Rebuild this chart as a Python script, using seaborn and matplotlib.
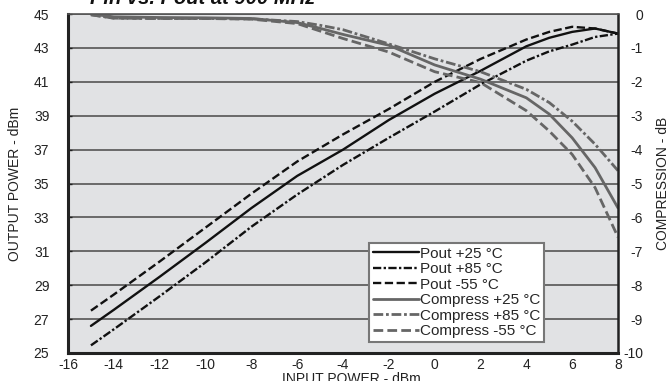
import matplotlib
matplotlib.use("Agg")
import matplotlib.pyplot as plt
from matplotlib.ticker import MultipleLocator, FixedLocator
import seaborn as sns

# input power (dBm) for the output power curves
pin = [-15, -14, -12, -10, -8, -6, -4, -2, 0, 2, 4, 5, 6, 7, 8]
pout_p25 = [26.6, 27.55, 29.5, 31.5, 33.55, 35.45, 37.0, 38.75, 40.3, 41.65, 43.1, 43.6, 43.95, 44.15, 43.85]
pout_p85 = [25.45, 26.4, 28.35, 30.35, 32.45, 34.35, 36.1, 37.7, 39.25, 40.85, 42.25, 42.8, 43.2, 43.65, 43.85]
pout_m55 = [27.5, 28.45, 30.4, 32.4, 34.4, 36.3, 37.9, 39.4, 41.0, 42.35, 43.5, 43.95, 44.25, 44.15, 43.85]

# input power (dBm) for the compression curves
pin_c = [-15, -14, -12, -10, -8, -6, -5, -4, -2, 0, 2, 4, 5, 6, 7, 8]
comp_p25 = [0.0, -0.08, -0.1, -0.11, -0.13, -0.25, -0.42, -0.6, -0.92, -1.5, -1.92, -2.47, -2.95, -3.65, -4.53, -5.72]
comp_p85 = [-0.02, -0.12, -0.13, -0.13, -0.14, -0.22, -0.33, -0.46, -0.88, -1.32, -1.7, -2.22, -2.61, -3.16, -3.84, -4.62]
comp_m55 = [-0.02, -0.12, -0.13, -0.13, -0.15, -0.28, -0.5, -0.72, -1.12, -1.7, -2.02, -2.85, -3.45, -4.14, -5.12, -6.58]

grid_x = [-14, -12, -8, -6, -4, -2, 0, 2, 4, 6]
yticks_left = [25, 27, 29, 31, 33, 35, 37, 39, 41, 43, 45]

sns.set_style("white")
plt.rcParams["font.family"] = ["Liberation Sans", "DejaVu Sans"]
plt.rcParams["axes.unicode_minus"] = False

fig, ax = plt.subplots(figsize=(6.67, 3.81), dpi=100)
fig.subplots_adjust(left=0.102, right=0.9265, bottom=0.0735, top=0.963)
ax2 = ax.twinx()

black = "#111111"
gray = "#666666"
dash = (0, (3.5, 1.5))
dashdot = (0, (3.5, 1.0, 1.0, 1.0))

sns.lineplot(x=pin, y=pout_p25, ax=ax, color=black, lw=1.7, linestyle="-", label="Pout +25 °C")
sns.lineplot(x=pin, y=pout_p85, ax=ax, color=black, lw=1.7, linestyle=dashdot, label="Pout +85 °C")
sns.lineplot(x=pin, y=pout_m55, ax=ax, color=black, lw=1.7, linestyle=dash, label="Pout -55 °C")

sns.lineplot(x=pin_c, y=comp_p25, ax=ax2, color=gray, lw=2.0, linestyle="-", label="Compress +25 °C")
sns.lineplot(x=pin_c, y=comp_p85, ax=ax2, color=gray, lw=2.0, linestyle=dashdot, label="Compress +85 °C")
sns.lineplot(x=pin_c, y=comp_m55, ax=ax2, color=gray, lw=2.0, linestyle=dash, label="Compress -55 °C")

ax.set_facecolor("#e1e2e4")
ax.set_axisbelow(True)
ax.set_xlim(-16, 8)
ax.set_ylim(25, 45)
ax2.set_ylim(-10, 0)

ax.xaxis.set_major_locator(MultipleLocator(2))
ax.xaxis.set_minor_locator(FixedLocator(grid_x))
ax.yaxis.set_major_locator(FixedLocator(yticks_left))
ax2.yaxis.set_major_locator(MultipleLocator(1))

ax.grid(False)
ax2.grid(False)
ax.xaxis.grid(True, which="minor", color="#222222", lw=1.0)
ax.yaxis.grid(True, which="major", color="#555555", lw=1.2)

ax.tick_params(axis="x", which="both", length=0, pad=3.5, labelsize=10, colors="#222222")
ax.tick_params(axis="y", which="major", direction="in", length=3, width=1, pad=13.5,
               labelsize=10, colors="#222222")
ax2.tick_params(axis="y", length=0, pad=18, labelsize=10, colors="#222222")
for lab in ax2.get_yticklabels():
    lab.set_horizontalalignment("right")

for side, w in [("left", 2.2), ("bottom", 2.2), ("right", 1.8), ("top", 1.2)]:
    ax2.spines[side].set_visible(True)
    ax2.spines[side].set_linewidth(w)
    ax2.spines[side].set_color("#222222" if side != "top" else "#555555")
    ax.spines[side].set_visible(False)

ax.set_xlabel("INPUT POWER - dBm", fontsize=10, color="#222222")
ax.xaxis.set_label_coords(0.516, -0.057)
ax.set_ylabel("OUTPUT POWER - dBm", fontsize=10, color="#222222")
ax.yaxis.set_label_coords(-0.084, 0.5)
ax2.set_ylabel("COMPRESSION - dB", fontsize=10, color="#222222")
ax2.yaxis.set_label_coords(1.07, 0.5)

h1, l1 = ax.get_legend_handles_labels()
h2, l2 = ax2.get_legend_handles_labels()
ax.get_legend().remove()
leg = ax2.legend(h1 + h2, l1 + l2, loc="lower left", bbox_to_anchor=(0.547, 0.032),
                 fontsize=11, frameon=True, fancybox=False, framealpha=1,
                 handlelength=3.0, handletextpad=0.1, labelspacing=0.1,
                 borderpad=0.25, borderaxespad=0)
leg.get_frame().set_edgecolor("#777777")
leg.get_frame().set_linewidth(1.5)

fig.text(90 / 667, 1 - 4.5 / 381, "Pin vs. Pout at 900 MHz", fontsize=14.5,
         fontweight="bold", fontstyle="italic", va="baseline", ha="left", color="#111111")

fig.savefig("out.png", dpi=100)
